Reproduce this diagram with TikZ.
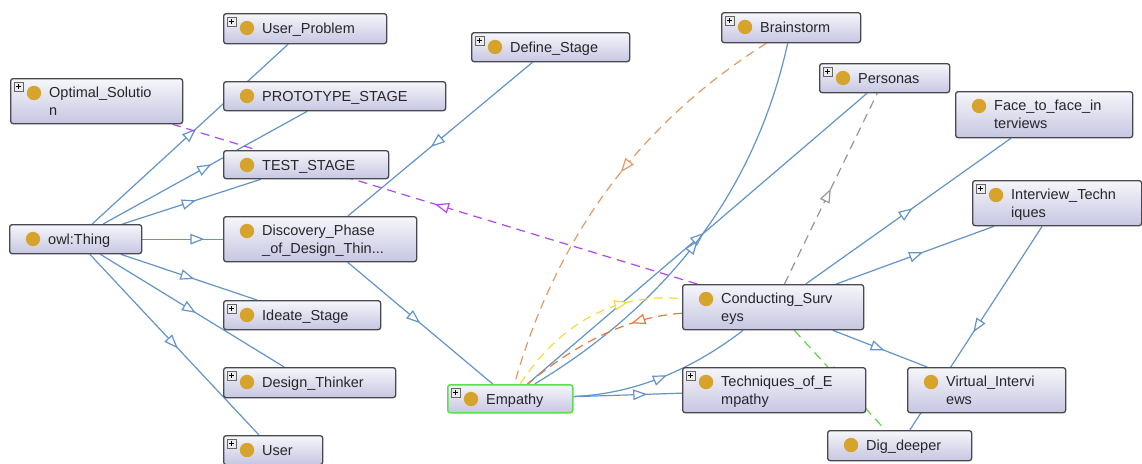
\documentclass[tikz,border=0pt]{standalone}
\usepackage{fontspec}
\setmainfont{Liberation Sans}
\usetikzlibrary{arrows.meta,decorations.markings}

\definecolor{edgeblue}{RGB}{98,148,200}
\definecolor{relpurple}{RGB}{178,72,236}
\definecolor{reltan}{RGB}{222,156,100}
\definecolor{relorange}{RGB}{232,122,62}
\definecolor{relyellow}{RGB}{246,218,64}
\definecolor{relgray}{RGB}{150,150,150}
\definecolor{relgreen}{RGB}{96,212,70}
\definecolor{owlgold}{RGB}{214,163,45}
\definecolor{boxborder}{RGB}{72,72,80}
\definecolor{boxtop}{RGB}{246,246,251}
\definecolor{boxbottom}{RGB}{198,198,226}
\definecolor{textgray}{RGB}{38,38,42}
\definecolor{selgreen}{RGB}{92,222,80}

\pgfdeclarelayer{bg}
\pgfdeclarelayer{edges}
\pgfsetlayers{bg,edges,main}

\tikzset{
  classbox/.style={draw=boxborder,line width=1.3pt,rounded corners=2.5pt,
    top color=boxtop,bottom color=boxbottom,anchor=north west,inner sep=0pt},
  selected/.style={draw=selgreen,line width=1.5pt},
  plain/.style={},
  classtext/.style={anchor=base west,inner sep=0pt,text=textgray,
    font=\fontsize{14.5}{17}\selectfont},
  plusbox/.style={draw=gray!80!black,line width=0.6pt,fill=gray!15},
  isa/.style={draw=edgeblue,line width=1.2pt},
  rel/.style={draw=#1,line width=1.2pt,dash pattern=on 9pt off 6pt},
  mk/.style={postaction={decorate},decoration={markings,
    mark=at position #1 with {\arrow{Triangle[length=14pt,width=10.5pt,fill=white]}}}},
}

% #1 name, #2-#5 box corners, #6 expandable (1/0), #7 first line, #8 second line, #9 box style
\newcommand\owlclass[9]{%
  \pgfmathsetmacro\bw{#4-#2}\pgfmathsetmacro\bh{#5-#3}%
  \node[classbox,#9,minimum width=\bw pt,minimum height=\bh pt] (#1) at (#2,#3) {};
  \fill[owlgold] ([shift={(24,15)}]#1.north west) circle[radius=7.2pt];
  \ifnum#6=1
    \draw[plusbox] ([shift={(4,4)}]#1.north west) rectangle ++(9,9);
    \draw[black,line width=0.7pt] ([shift={(6,8.5)}]#1.north west) -- ++(5,0);
    \draw[black,line width=0.7pt] ([shift={(8.5,6)}]#1.north west) -- ++(0,5);
  \fi
  \def\secondline{#8}%
  \ifx\secondline\empty
    \node[classtext] (#1-a) at ([shift={(39,20)}]#1.north west) {#7};
  \else
    \node[classtext] (#1-a) at ([shift={(39,19)}]#1.north west) {#7};
    \node[classtext] (#1-b) at ([shift={(39,37)}]#1.north west) {#8};
  \fi
}

\begin{document}
\begin{tikzpicture}[x=1pt,y=-1pt]
\begin{pgfonlayer}{bg}
  \fill[white] (0,0) rectangle (1142,463);
\end{pgfonlayer}
\useasboundingbox (0,0) rectangle (1142,463);

% classes
\owlclass{userproblem}{223}{13}{386}{43}{1}{User\_Problem}{}{plain}
\owlclass{optimal}{10}{78}{182}{123}{1}{Optimal\_Solutio}{n}{plain}
\owlclass{prototype}{223}{81}{445}{110}{0}{PROTOTYPE\_STAGE}{}{plain}
\owlclass{test}{223}{150}{388}{178}{0}{TEST\_STAGE}{}{plain}
\owlclass{define}{471}{32}{629}{61}{1}{Define\_Stage}{}{plain}
\owlclass{brainstorm}{721}{12}{860}{42}{1}{Brainstorm}{}{plain}
\owlclass{personas}{819}{63}{949}{92}{1}{Personas}{}{plain}
\owlclass{facetoface}{955}{91}{1132}{137}{0}{Face\_to\_face\_in}{terviews}{plain}
\owlclass{interviewtech}{972}{180}{1141}{225}{1}{Interview\_Techn}{iques}{plain}
\owlclass{owl}{9}{224}{141}{253}{0}{owl:Thing}{}{plain}
\owlclass{discovery}{223}{216}{416}{261}{0}{Discovery\_Phase}{\_of\_Design\_Thin...}{plain}
\owlclass{ideate}{223}{300}{380}{329}{1}{Ideate\_Stage}{}{plain}
\owlclass{designthinker}{223}{367}{395}{397}{1}{Design\_Thinker}{}{plain}
\owlclass{user}{223}{435}{322}{464}{1}{User}{}{plain}
\owlclass{empathy}{447}{384}{572}{412}{1}{Empathy}{}{selected}
\owlclass{conducting}{682}{284}{863}{329}{0}{Conducting\_Surv}{eys}{plain}
\owlclass{techempathy}{682}{367}{865}{412}{1}{Techniques\_of\_E}{mpathy}{plain}
\owlclass{virtual}{907}{367}{1065}{412}{0}{Virtual\_Intervi}{ews}{plain}
\owlclass{digdeeper}{827}{430}{971}{460}{0}{Dig\_deeper}{}{plain}

\begin{pgfonlayer}{edges}
  % subclass links
  \draw[isa,mk=0.53] (owl) -- (userproblem);
  \draw[isa,mk=0.53] (owl) -- (prototype);
  \draw[isa,mk=0.53] (owl) -- (test);
  \draw[isa,mk=0.77] (owl) -- (discovery);
  \draw[isa,mk=0.54] (owl) -- (ideate);
  \draw[isa,mk=0.52] (owl) -- (designthinker);
  \draw[isa,mk=0.52] (owl) -- (user);
  \draw[isa,mk=0.55] (define) -- (discovery);
  \draw[isa,mk=0.5] (discovery) -- (empathy);
  \draw[isa,mk=0.52] (empathy) -- (personas);
  \draw[isa,mk=0.5] (empathy) .. controls (671.7,301.3) and (755.7,187.3) .. (brainstorm);
  \draw[isa,mk=0.68] (empathy) -- (techempathy);
  \draw[isa,mk=0.52] (empathy) .. controls (631,394.3) and (689,372) .. (conducting);
  \draw[isa,mk=0.52] (conducting) -- (facetoface);
  \draw[isa,mk=0.55] (conducting) -- (interviewtech);
  \draw[isa,mk=0.55] (conducting) -- (virtual);
  \draw[isa,mk=0.52] (interviewtech) -- (digdeeper);
  % object property links
  \draw[rel=relpurple,mk=0.5] (conducting) -- (optimal);
  \draw[rel=relgray,mk=0.5] (conducting) -- (personas);
  \draw[rel=reltan,mk=0.45] (brainstorm) .. controls (638.7,123.7) and (556,237.3) .. (empathy);
  \draw[rel=relyellow,mk=0.72] (empathy) .. controls (557.3,327.7) and (610.7,292) .. (conducting);
  \draw[rel=relorange,mk=0.3] (conducting) .. controls (630.7,316.7) and (579,341) .. (empathy);
  \draw[rel=relgreen,mk=0.5] (conducting) -- (digdeeper);
\end{pgfonlayer}
\end{tikzpicture}
\end{document}
